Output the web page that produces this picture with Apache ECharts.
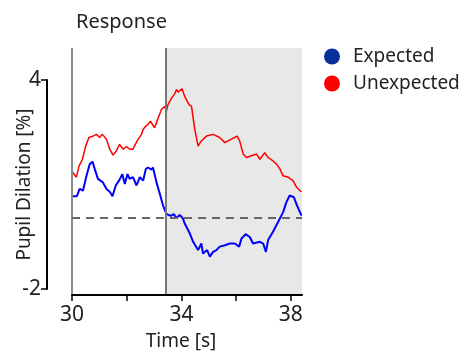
<!DOCTYPE html>
<html>
<head>
<meta charset="UTF-8">
<script src="https://cdn.jsdelivr.net/npm/echarts@6/dist/echarts.min.js"></script>
<style>
  html, body { margin: 0; padding: 0; background: #fff; }
  #chart { width: 467px; height: 356px; }
</style>
</head>
<body>
<div id="chart"></div>
<script>
// values
const unexpectedTime = [29.77, 29.98, 30.16, 30.26, 30.38, 30.5, 30.62, 30.77, 30.89, 31.01, 31.11, 31.26, 31.38, 31.5, 31.62, 31.74, 31.87, 31.99, 32.11, 32.23, 32.38, 32.54, 32.6, 32.7, 32.78, 32.87, 32.94, 33.02, 33.09, 33.18, 33.27, 33.33, 33.39, 33.45, 33.51, 33.64, 33.76, 33.82, 33.88, 33.94, 34.02, 34.12, 34.28, 34.37, 34.49, 34.61, 34.73, 34.92, 35.16, 35.4, 35.59, 35.71, 35.83, 35.95, 36.04, 36.13, 36.26, 36.38, 36.56, 36.75, 36.87, 37.05, 37.17, 37.35, 37.48, 37.6, 37.72, 37.9, 38.08, 38.21, 38.39];
const unexpectedVal = [1.44, 1.37, 1.18, 1.51, 1.7, 2.08, 2.33, 2.37, 2.42, 2.33, 2.42, 2.28, 1.99, 1.82, 1.94, 2.13, 1.99, 2.07, 1.99, 1.99, 2.23, 2.42, 2.56, 2.66, 2.71, 2.8, 2.76, 2.61, 2.76, 2.95, 3.14, 3.19, 3.23, 3.09, 3.28, 3.47, 3.6, 3.72, 3.64, 3.66, 3.74, 3.52, 3.28, 3.23, 2.56, 2.08, 2.23, 2.37, 2.42, 2.33, 2.18, 2.23, 2.28, 2.33, 2.37, 2.23, 1.85, 1.75, 1.8, 1.85, 1.7, 1.89, 1.75, 1.65, 1.56, 1.42, 1.22, 1.18, 1.08, 0.89, 0.75];

const expectedTime = [29.77, 29.82, 29.92, 30.04, 30.18, 30.28, 30.4, 30.53, 30.65, 30.75, 30.83, 30.95, 31.13, 31.26, 31.38, 31.48, 31.6, 31.72, 31.84, 31.93, 32.03, 32.11, 32.23, 32.36, 32.48, 32.6, 32.7, 32.78, 32.9, 32.96, 33.09, 33.21, 33.33, 33.45, 33.61, 33.72, 33.82, 33.94, 34.06, 34.12, 34.31, 34.43, 34.61, 34.73, 34.79, 34.94, 35.04, 35.16, 35.28, 35.4, 35.59, 35.77, 35.95, 36.11, 36.2, 36.35, 36.5, 36.62, 36.87, 36.99, 37.09, 37.17, 37.35, 37.54, 37.72, 37.84, 37.96, 38.11, 38.23, 38.39];
const expectedVal = [0.75, 0.92, 0.67, 0.63, 0.63, 0.84, 0.79, 1.22, 1.56, 1.63, 1.42, 1.13, 1.03, 0.84, 0.76, 0.63, 0.94, 1.08, 1.27, 0.98, 1.27, 1.13, 1.18, 0.94, 1.18, 1.08, 1.42, 1.46, 1.4, 1.46, 1.03, 0.7, 0.36, 0.12, 0.06, 0.11, 0.0, 0.09, -0.02, -0.16, -0.45, -0.69, -0.93, -0.74, -1.03, -0.93, -1.12, -0.98, -0.93, -0.83, -0.79, -0.74, -0.74, -0.83, -0.59, -0.47, -0.55, -0.74, -0.69, -0.74, -0.98, -0.64, -0.4, -0.11, 0.17, 0.46, 0.65, 0.6, 0.36, 0.07];

const xTicks = [30, 32, 34, 36, 38];
const xLabels = [30, 34, 38];
const yLabels = [-2, 4];
const stimulusTime = 30;
const responseTime = 33.42;

const zip = (xs, ys) => xs.map((x, i) => [x, ys[i]]);

const font = 'Noto Sans';
const ink = '#222';

const chart = echarts.init(document.getElementById('chart'));

chart.setOption({
  animation: false,
  title: {
    text: 'Response',
    left: 71, top: 7,
    textStyle: { fontFamily: font, fontSize: 20, fontWeight: 'normal', color: ink }
  },
  legend: {
    data: [
      { name: 'Expected', itemStyle: { color: '#0b2f9a' } },
      { name: 'Unexpected', itemStyle: { color: '#ff0000' } }
    ],
    orient: 'vertical',
    left: 319, top: 42,
    icon: 'circle',
    itemWidth: 16, itemHeight: 16,
    itemGap: 8,
    textStyle: { fontFamily: font, fontSize: 19, color: ink, padding: [0, 0, 0, 8] }
  },
  grid: [
    { left: 72, top: 48, width: 230, height: 249 },
    { left: 47, top: 80, width: 10, height: 209 }
  ],
  xAxis: [
    {
      gridIndex: 0, type: 'value', z: 5,
      min: 30, max: 38.41,
      name: 'Time [s]', nameLocation: 'middle', nameGap: 37,
      nameTextStyle: { fontFamily: font, fontSize: 19, color: ink, padding: [0, 12, 0, 0] },
      axisLine: { show: true, onZero: false, lineStyle: { color: '#000', width: 2 } },
      axisTick: { show: true, length: 6, customValues: xTicks, lineStyle: { color: '#000', width: 1.5 } },
      axisLabel: { customValues: xLabels, margin: 10, fontFamily: font, fontSize: 21, color: ink },
      splitLine: { show: false }
    },
    { gridIndex: 1, type: 'value', show: false }
  ],
  yAxis: [
    {
      gridIndex: 0, type: 'value',
      min: -2.23, max: 4.92,
      show: false, splitLine: { show: false }
    },
    {
      gridIndex: 1, type: 'value',
      min: -2, max: 4,
      name: 'Pupil Dilation [%]', nameLocation: 'middle', nameGap: 13, nameRotate: 90,
      nameMoveOverlap: false,
      nameTextStyle: { fontFamily: font, fontSize: 19, color: ink },
      axisLine: { show: true, onZero: false, lineStyle: { color: '#000', width: 2 } },
      axisTick: { show: true, length: 6, customValues: yLabels, lineStyle: { color: '#000', width: 1.5 } },
      axisLabel: { customValues: yLabels, margin: 6, fontFamily: font, fontSize: 21, color: ink },
      splitLine: { show: false }
    }
  ],
  series: [
    {
      // shading and reference lines
      type: 'line', xAxisIndex: 0, yAxisIndex: 0, data: [], z: 1,
      silent: true,
      markArea: {
        silent: true,
        itemStyle: { color: '#e8e8e8' },
        data: [[{ xAxis: responseTime }, { xAxis: 38.41 }]]
      },
      markLine: {
        silent: true, symbol: 'none', label: { show: false },
        data: [
          { xAxis: stimulusTime, lineStyle: { color: '#8a8a8a', width: 2, type: 'solid' } },
          { xAxis: responseTime, lineStyle: { color: '#777', width: 2, type: 'solid' } },
          { yAxis: 0, lineStyle: { color: '#666', width: 2, type: [8, 6] } }
        ]
      }
    },
    {
      name: 'Expected', type: 'line', xAxisIndex: 0, yAxisIndex: 0,
      data: zip(expectedTime, expectedVal),
      showSymbol: false, clip: false, z: 3,
      itemStyle: { color: '#0b2f9a' },
      lineStyle: { color: '#0000ff', width: 2 }
    },
    {
      name: 'Unexpected', type: 'line', xAxisIndex: 0, yAxisIndex: 0,
      data: zip(unexpectedTime, unexpectedVal),
      showSymbol: false, clip: false, z: 3,
      itemStyle: { color: '#ff0000' },
      lineStyle: { color: '#ff0000', width: 1.5 }
    }
  ]
});
</script>
</body>
</html>
